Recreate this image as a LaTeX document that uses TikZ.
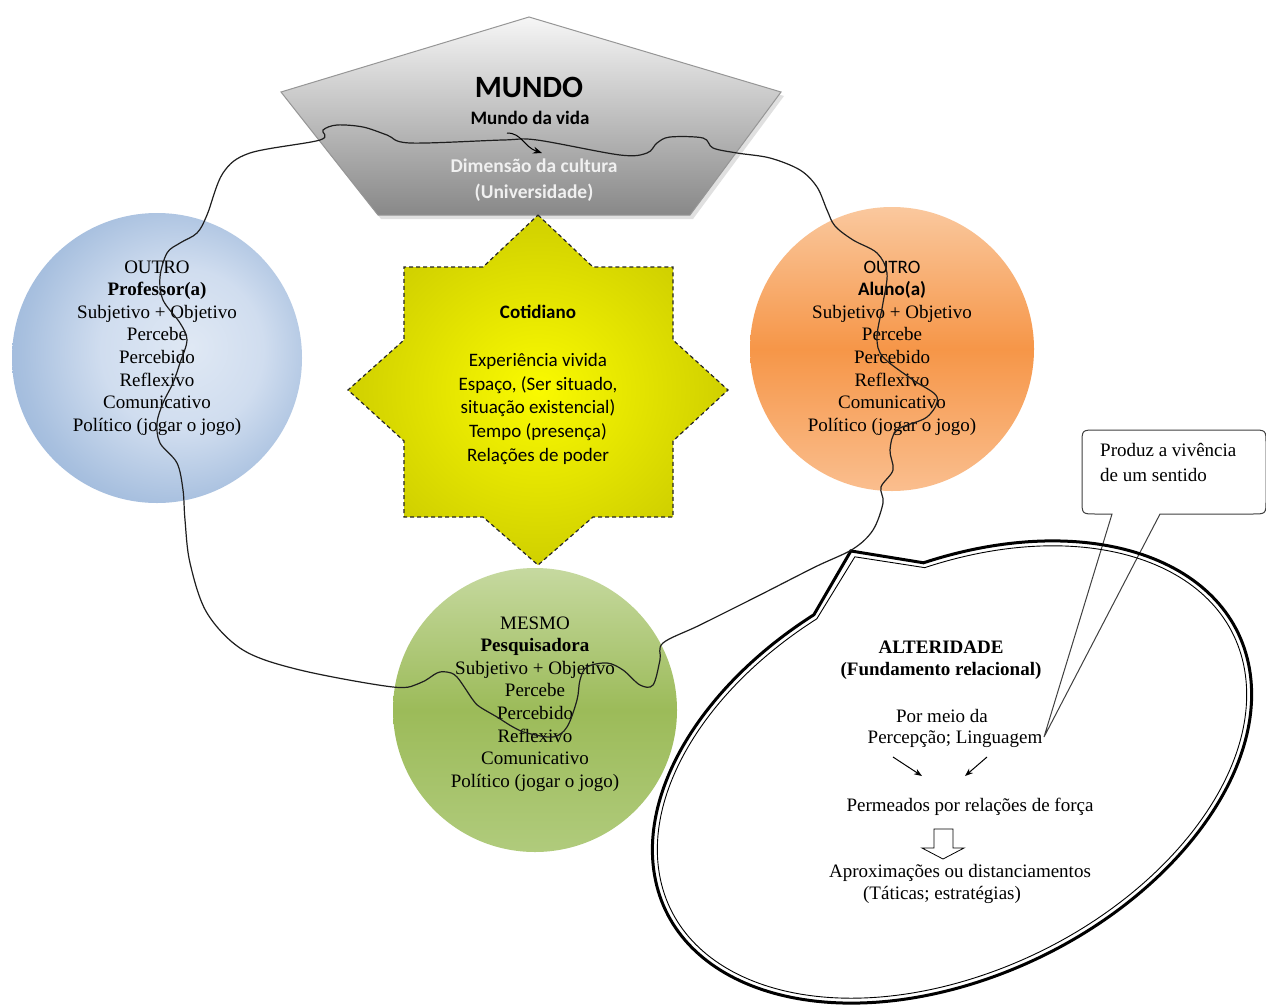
\documentclass[tikz,border=0pt]{standalone}
\usepackage{fontspec}
\setmainfont{Liberation Serif}
\newfontfamily\calib{Carlito}
\usetikzlibrary{arrows.meta}
\definecolor{pentTop}{RGB}{246,246,246}
\definecolor{pentBot}{RGB}{136,136,136}
\definecolor{pentLine}{RGB}{150,150,150}
\definecolor{starIn}{RGB}{250,250,0}
\definecolor{starOut}{RGB}{208,208,0}
\definecolor{blueLight}{RGB}{223,232,244}
\definecolor{blueMid}{RGB}{208,221,239}
\definecolor{blueEdge}{RGB}{168,192,223}
\definecolor{blueDark}{RGB}{148,178,216}
\definecolor{orTop}{RGB}{250,200,158}
\definecolor{orMid}{RGB}{246,150,72}
\definecolor{orBot}{RGB}{250,190,142}
\definecolor{grTop}{RGB}{198,217,160}
\definecolor{grMid}{RGB}{156,187,89}
\definecolor{grBot}{RGB}{176,203,124}
\definecolor{lineC}{RGB}{30,30,30}
\pgfdeclareradialshading{bluerad}{\pgfpoint{6bp}{2bp}}{color(0bp)=(blueLight); color(14bp)=(blueMid); color(26bp)=(blueEdge); color(34bp)=(blueDark); color(50bp)=(blueDark)}
\begin{document}
\begin{tikzpicture}[x=1pt,y=-1pt,
  serif/.style={font=\fontsize{19}{22.6}\selectfont, align=center, inner sep=0pt, text=black},
  sans/.style={font=\calib\fontsize{19}{23.8}\selectfont, align=center, inner sep=0pt, text=black},
  bubble/.style={circle, minimum size=#1, inner sep=0pt},
  wave/.style={draw=lineC, line width=1.2pt},
  smallarrow/.style={line width=1pt, -{Stealth[length=8pt,width=6pt]}},
  ]
\useasboundingbox (0,0) rectangle (1266,1004);
\clip (0,0) rectangle (1266,1004);
\fill[white] (0,0) rectangle (1266,1004);

% pentagon (MUNDO)
\fill[black!12] (532,21) -- (784,96) -- (693,219) -- (381,219) -- (284,96) -- cycle;
\shade[top color=pentTop, bottom color=pentBot] (529,17) -- (781,92) -- (690,215) -- (378,215) -- (281,92) -- cycle;
\draw[pentLine, line width=1pt] (529,17) -- (781,92) -- (690,215) -- (378,215) -- (281,92) -- cycle;

% star (Cotidiano)
\shade[inner color=starIn, outer color=starOut] (538,215) -- (593,267) -- (673,267) -- (673,340) -- (728,390) -- (673,441) -- (673,517) -- (593,517) -- (538,565) -- (483,517) -- (404,517) -- (404,441) -- (348,390) -- (404,340) -- (404,267) -- (483,267) -- cycle;
\draw[black!85, line width=1.2pt, dash pattern=on 4pt off 3pt] (538,215) -- (593,267) -- (673,267) -- (673,340) -- (728,390) -- (673,441) -- (673,517) -- (593,517) -- (538,565) -- (483,517) -- (404,517) -- (404,441) -- (348,390) -- (404,340) -- (404,267) -- (483,267) -- cycle;

% circles
\node[bubble=290pt, shading=bluerad] (prof) at (157,358) {};
\node[bubble=284pt, top color=orTop, bottom color=orBot, middle color=orMid] (aluno) at (892,349) {};
\node[bubble=284pt, top color=grTop, bottom color=grBot, middle color=grMid] (pesq) at (535,710) {};

% callout
\draw[draw=black!75, line width=1pt, fill=white] (1112,514) -- (1096,514) .. controls (1082,514) .. (1082,500) -- (1082,444) .. controls (1082,430) .. (1096,430) -- (1252,430) .. controls (1266,430) .. (1266,444) -- (1266,500) .. controls (1266,514) .. (1252,514) -- (1160,514) -- (1044,737) -- cycle;

% ellipse callout (ALTERIDADE)
\begin{scope}[shift={(952,772)}, rotate=26]
\draw[line width=3pt] (78:318pt and 205pt) arc[start angle=78, end angle=-260, x radius=318pt, y radius=205pt] -- (6pt,243pt) -- cycle;
\draw[line width=0.9pt] (78:313pt and 200pt) arc[start angle=78, end angle=-260, x radius=313pt, y radius=200pt] -- (7pt,236pt) -- cycle;
\end{scope}

% pentagon texts
\node[font=\calib\bfseries\fontsize{31}{36}\selectfont, inner sep=0pt] (mundo) at (529,87) {MUNDO};
\node[font=\calib\bfseries\fontsize{19}{22}\selectfont, inner sep=0pt] (mvida) at (530,118) {Mundo da vida};
\node[font=\calib\bfseries\fontsize{19.5}{26}\selectfont, text=white!94!black, align=center, inner sep=0pt] (dim) at (534,180) {Dimensão da cultura\\(Universidade)};

% star text
\node[sans] (cot) at (538,385) {\textbf{Cotidiano}\\[23.8pt]Experiência vivida\\Espaço, (Ser situado,\\situação existencial)\\Tempo (presença)\\Relações de poder};

% circle texts
\node[serif] (profT) at (157,348) {OUTRO\\\textbf{Professor(a)}\\Subjetivo + Objetivo\\Percebe\\Percebido\\Reflexivo\\Comunicativo\\Político (jogar o jogo)};
\node[serif] (alunoT) at (892,348) {{\calib\fontsize{19}{22.6}\selectfont OUTRO}\\{\calib\bfseries\fontsize{19}{22.6}\selectfont Aluno(a)}\\Subjetivo + Objetivo\\Percebe\\Percebido\\Reflexivo\\Comunicativo\\Político (jogar o jogo)};
\node[serif] (pesqT) at (535,704) {MESMO\\\textbf{Pesquisadora}\\Subjetivo + Objetivo\\Percebe\\Percebido\\Reflexivo\\Comunicativo\\Político (jogar o jogo)};

% ellipse texts
\node[serif, font=\fontsize{19}{22}\selectfont] (alt) at (941,660) {\textbf{ALTERIDADE}\\\textbf{(Fundamento relacional)}};
\node[serif] (por) at (942,716) {Por meio da};
\node[serif] (perc) at (955,739) {Percepção; Linguagem};
\node[serif] (perm) at (970,807) {Permeados por relações de força};
\node[serif] (aprox) at (960,873) {Aproximações ou distanciamentos};
\node[serif] (tat) at (942,895) {(Táticas; estratégias)};
\node[serif, font=\fontsize{19}{25}\selectfont, align=left, anchor=west] (prod) at (1100,462) {Produz a vivência\\de um sentido};

% arrows inside ellipse
\coordinate (a1s) at (893,757); \coordinate (a1e) at (922,776);
\coordinate (a2s) at (987,757); \coordinate (a2e) at (965,776);
\draw[smallarrow] (a1s) -- (a1e);
\draw[smallarrow] (a2s) -- (a2e);
\draw[fill=white, line width=0.8pt] (934,829) -- (953,829) -- (953,848) -- (964,848) -- (943,859) -- (922,848) -- (934,848) -- cycle;

% wavy loop
\draw[wave] plot[smooth cycle, tension=0.55] coordinates {
(663,643) (700,625) (758,596) (815,567) (853,549) (873,530) (883,503) (881,487) (893,470) (890,450) (897,430) (927,417) (937,397) (913,380) (883,357) (877,337) (883,303) (887,273) (877,253) (853,240) (835,226) (827,210) (817,187) (800,170) (770,158) (737,153) (713,148) (703,138) (670,137) (657,143) (647,153) (620,155) (537,140) (503,140) (410,143) (387,135) (363,127) (337,125) (323,130) (320,140) (250,153) (223,173) (207,215) (197,233) (180,243) (167,253) (160,277) (163,300) (180,323) (187,340) (180,363) (173,383) (163,403) (157,423) (160,443) (177,463) (183,490) (185,520) (190,563) (207,613) (243,650) (300,670) (393,687) (420,683) (437,673) (447,672) (457,677) (473,700) (480,707) (497,717) (513,727) (527,733) (553,737) (567,727) (577,700) (580,680) (587,667) (607,663) (623,670) (640,685) (653,685) (660,660)};

% small arrow in pentagon
\coordinate (arrS) at (507,133); \coordinate (arrE) at (542,153);
\draw[line width=1pt, -{Stealth[length=9pt,width=7pt]}] (arrS) .. controls (522,133) and (524,147) .. (arrE);
\end{tikzpicture}
\end{document}
